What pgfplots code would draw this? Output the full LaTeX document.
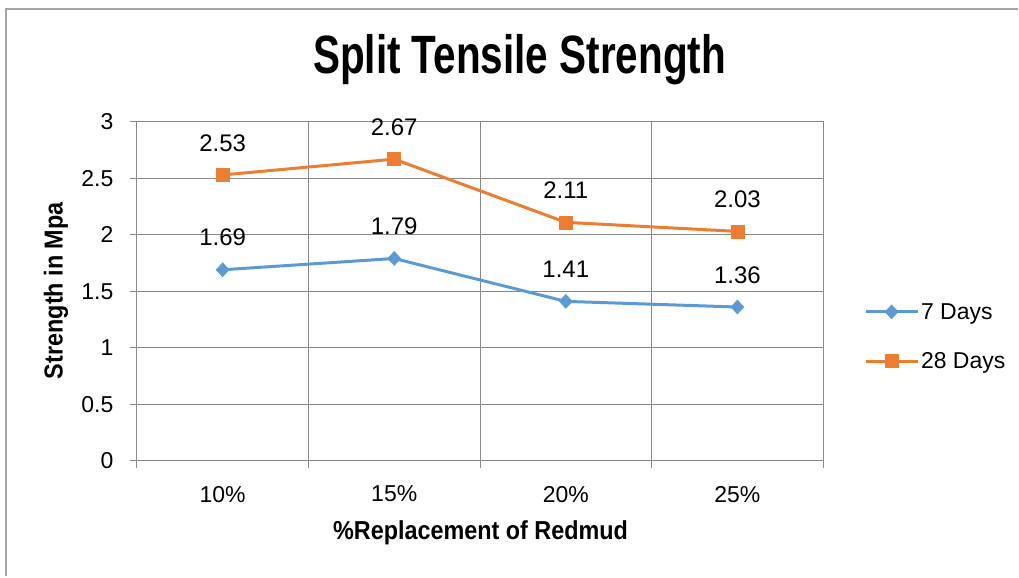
\documentclass[border=0pt]{standalone}
\usepackage{pgfplots}
\pgfplotsset{compat=1.18}
\usepackage{fontspec}
\setmainfont{Liberation Sans}
\newfontfamily\condfont{Liberation Sans}[FakeStretch=0.75]
\newfontfamily\semifont{Liberation Sans}[FakeStretch=0.9]
\definecolor{sblue}{HTML}{5B9BD5}
\definecolor{sorange}{HTML}{ED7D31}
\definecolor{gridgray}{HTML}{898989}
\definecolor{framegray}{HTML}{A6A6A6}
\begin{document}
\begin{tikzpicture}
\path (0bp,0bp) rectangle (1019bp,-577bp);
\draw[framegray, line width=2bp] (6bp,-577bp) -- (6bp,-9bp) -- (1019bp,-9bp);
\node[font=\condfont\bfseries\fontsize{54bp}{60bp}\selectfont] at (520bp,-60bp) {Split Tensile Strength};
\node[font=\semifont\bfseries\fontsize{26bp}{30bp}\selectfont, rotate=90] at (56bp,-291bp) {Strength in Mpa};
\node[font=\semifont\bfseries\fontsize{26bp}{30bp}\selectfont] at (481bp,-533bp) {\%Replacement of Redmud};
\begin{axis}[
  at={(137bp,-461bp)}, anchor=south west,
  scale only axis, width=687bp, height=339bp,
  xmin=-0.5, xmax=3.5, ymin=0, ymax=3,
  xtick={0,1,2,3}, xticklabels={10\%,15\%,20\%,25\%},
  ytick={0,0.5,1,1.5,2,2.5,3},
  yticklabels={0,0.5,1,1.5,2,2.5,3},
  minor xtick={-0.5,0.5,1.5,2.5,3.5},
  xtick pos=bottom, ytick pos=left,
  major x tick style={draw=none},
  xminorgrids, ymajorgrids,
  tick align=outside,
  major tick length=7bp, minor tick length=7bp,
  axis line style={gridgray, line width=1bp},
  every tick/.style={gridgray, line width=1bp},
  minor tick style={gridgray, line width=1bp},
  grid style={gridgray, line width=1bp},
  minor grid style={gridgray, line width=1bp},
  ticklabel style={font=\fontsize{23bp}{26bp}\selectfont},
  yticklabel style={xshift=-13bp},
  xticklabel style={yshift=-15bp},
  clip=false,
  legend style={at={(1.055,0.366)}, anchor=west, draw=none, fill=none,
    font=\fontsize{23bp}{26bp}\selectfont, row sep=28bp},
  legend cell align=left,
  legend image code/.code={\draw[mark repeat=2,mark phase=2,#1] plot coordinates {(0bp,0bp)(26bp,0bp)(52bp,0bp)};},
  nodes near coords, point meta=explicit symbolic,
  every node near coord/.append style={font=\fontsize{24bp}{28bp}\selectfont, text=black, anchor=south, yshift=20bp},
]
\addplot[sblue, line width=3bp, mark=diamond*, mark size=7bp, mark options={line width=0.5bp, xscale=1.25}]
  coordinates {(0,1.69)[1.69] (1,1.79)[1.79] (2,1.41)[1.41] (3,1.36)[1.36]};
\addlegendentry{7 Days}
\addplot[sorange, line width=3bp, mark=square*, mark size=6.5bp, mark options={line width=0.5bp}]
  coordinates {(0,2.53)[2.53] (1,2.67)[2.67] (2,2.11)[2.11] (3,2.03)[2.03]};
\addlegendentry{28 Days}
\end{axis}
\end{tikzpicture}
\end{document}
